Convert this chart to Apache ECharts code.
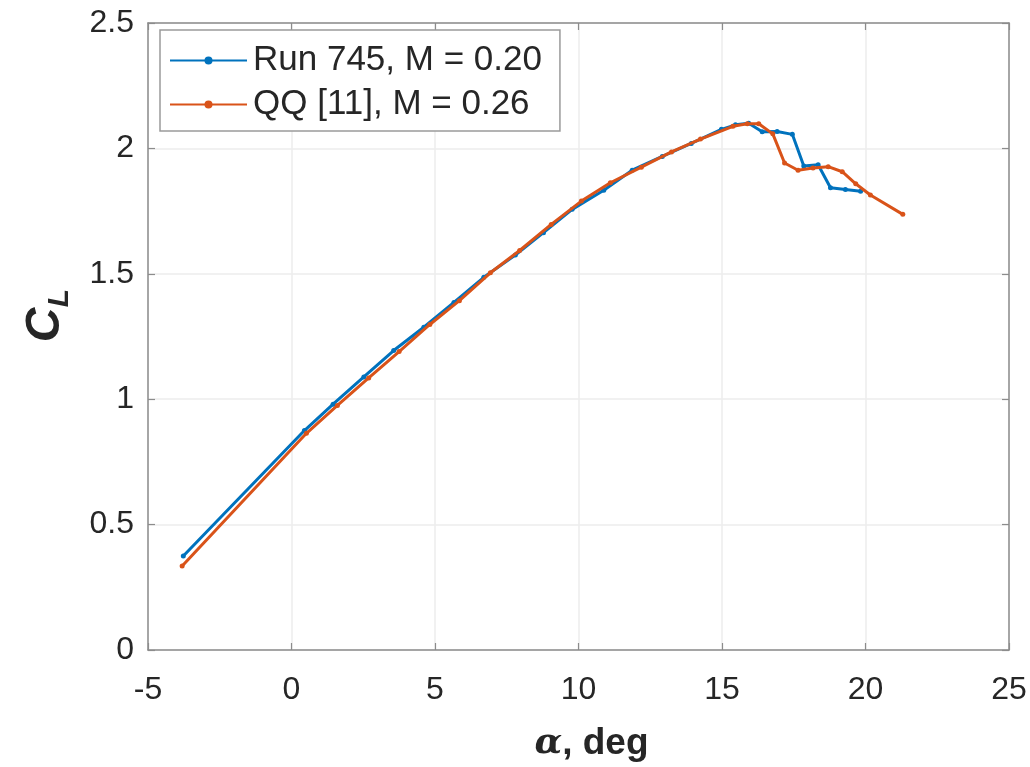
<!DOCTYPE html>
<html>
<head>
<meta charset="utf-8">
<style>
  html, body { margin: 0; padding: 0; background: #ffffff; }
  #chart { width: 1030px; height: 767px; }
</style>
<script src="https://cdn.jsdelivr.net/npm/echarts@6/dist/echarts.min.js"></script>
</head>
<body>
<div id="chart"></div>
<script>
// Lift coefficient vs. angle of attack
const runAlpha = [-3.77, 0.45, 1.45, 2.52, 3.56, 4.61, 5.66, 6.70, 7.80, 8.78, 9.78, 10.88, 11.87, 12.92, 13.93, 14.98, 15.47, 15.93, 16.40, 16.92, 17.45, 17.85, 18.35, 18.78, 19.30, 19.83];
const runCL    = [0.375, 0.875, 0.980, 1.089, 1.194, 1.287, 1.386, 1.486, 1.575, 1.664, 1.757, 1.833, 1.913, 1.968, 2.020, 2.076, 2.094, 2.100, 2.066, 2.067, 2.056, 1.930, 1.935, 1.843, 1.836, 1.829];

const qqAlpha = [-3.81, 0.52, 1.60, 2.69, 3.75, 4.82, 5.85, 6.93, 7.95, 9.05, 10.10, 11.11, 12.19, 13.24, 14.25, 15.38, 15.88, 16.28, 16.77, 17.18, 17.65, 18.17, 18.70, 19.19, 19.66, 20.17, 21.30];
const qqCL    = [0.335, 0.864, 0.975, 1.085, 1.190, 1.298, 1.393, 1.504, 1.593, 1.697, 1.790, 1.863, 1.925, 1.986, 2.037, 2.088, 2.098, 2.098, 2.058, 1.942, 1.913, 1.922, 1.927, 1.907, 1.859, 1.814, 1.737];

const seriesNames = ['Run 745, M = 0.20', 'QQ [11], M = 0.26'];
const xTicks = { min: -5, max: 25, interval: 5 };
const yTicks = { min: 0, max: 2.5, interval: 0.5 };

const pair = (xs, ys) => xs.map((x, i) => [x, ys[i]]);

const axisGray = '#8c8c8c';
const labelColor = '#262626';
const fontFamily = '"Liberation Sans", Arial, Helvetica, sans-serif';

const chart = echarts.init(document.getElementById('chart'), null, { renderer: 'canvas' });

// Top and right edges of the axes box: line and inward ticks only
const boxAxis = {
  axisLine: { show: true, onZero: false, lineStyle: { color: axisGray, width: 1.5 } },
  axisTick: { show: true, inside: true, length: 7, lineStyle: { color: axisGray, width: 1.2 } },
  axisLabel: { show: false },
  splitLine: { show: false }
};

chart.setOption({
  animation: false,
  backgroundColor: '#ffffff',
  grid: { left: 148, right: 21, top: 23, bottom: 114, containLabel: false },
  legend: {
    orient: 'vertical',
    left: 160,
    top: 30,
    data: seriesNames,
    itemWidth: 77,
    itemHeight: 10,
    itemGap: 9,
    padding: [13, 18, 9, 9],
    backgroundColor: '#ffffff',
    borderColor: '#9a9a9a',
    borderWidth: 1.5,
    borderRadius: 0,
    textStyle: { fontFamily: fontFamily, fontSize: 35, color: labelColor, padding: [0, 0, 0, 1] }
  },
  xAxis: [
    {
      type: 'value',
      min: xTicks.min, max: xTicks.max, interval: xTicks.interval,
      position: 'bottom',
      axisLine: { show: true, onZero: false, lineStyle: { color: axisGray, width: 1.5 } },
      axisTick: { show: true, inside: true, length: 7, lineStyle: { color: axisGray, width: 1.2 } },
      axisLabel: { fontFamily: fontFamily, fontSize: 32, color: labelColor, margin: 24 },
      splitLine: { show: true, lineStyle: { color: '#ececec', width: 1.5 } },
      name: '{a|α}{b|, deg}',
      nameLocation: 'middle',
      nameGap: 75,
      nameTextStyle: {
        rich: {
          a: { fontFamily: '"DejaVu Serif", "Liberation Serif", serif', fontStyle: 'italic', fontWeight: 'bold', fontSize: 36, color: labelColor, padding: [0, 0, 0, 26] },
          b: { fontFamily: fontFamily, fontWeight: 'bold', fontSize: 37, color: labelColor }
        }
      }
    },
    Object.assign({ type: 'value', min: xTicks.min, max: xTicks.max, interval: xTicks.interval, position: 'top' }, boxAxis)
  ],
  yAxis: [
    {
      type: 'value',
      min: yTicks.min, max: yTicks.max, interval: yTicks.interval,
      position: 'left',
      axisLine: { show: true, onZero: false, lineStyle: { color: axisGray, width: 1.5 } },
      axisTick: { show: true, inside: true, length: 7, lineStyle: { color: axisGray, width: 1.2 } },
      axisLabel: { fontFamily: fontFamily, fontSize: 32, color: labelColor, margin: 14 },
      splitLine: { show: true, lineStyle: { color: '#ececec', width: 1.5 } }
    },
    Object.assign({ type: 'value', min: yTicks.min, max: yTicks.max, interval: yTicks.interval, position: 'right' }, boxAxis)
  ],
  graphic: [
    {
      type: 'group',
      left: 22,
      top: 289,
      rotation: Math.PI / 2,
      children: [
        { type: 'text', x: 0, y: 0, style: { text: 'C', font: 'italic bold 48px ' + fontFamily, fill: labelColor } },
        { type: 'text', x: 35, y: 23, style: { text: 'L', font: 'italic bold 30px ' + fontFamily, fill: labelColor } }
      ]
    }
  ],
  series: [
    {
      name: seriesNames[0],
      type: 'line',
      data: pair(runAlpha, runCL),
      symbol: 'circle',
      symbolSize: 5,
      showSymbol: true,
      lineStyle: { color: '#0072BD', width: 3 },
      itemStyle: { color: '#0072BD' },
      z: 3
    },
    {
      name: seriesNames[1],
      type: 'line',
      data: pair(qqAlpha, qqCL),
      symbol: 'circle',
      symbolSize: 5,
      showSymbol: true,
      lineStyle: { color: '#D95319', width: 3 },
      itemStyle: { color: '#D95319' },
      z: 4
    }
  ]
});
</script>
</body>
</html>
